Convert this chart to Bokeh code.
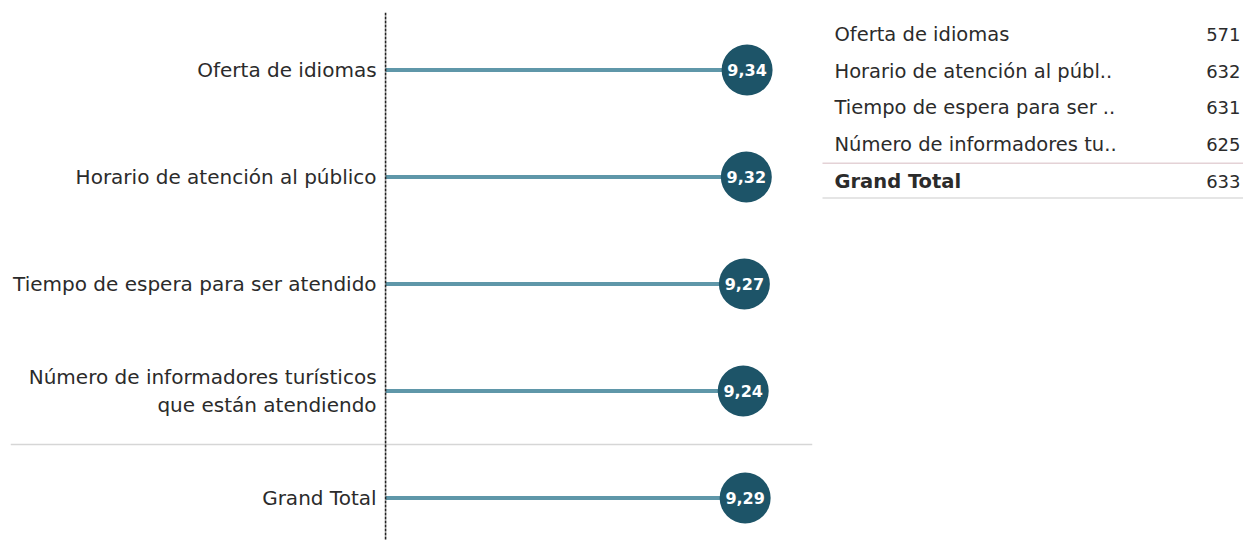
from bokeh.plotting import figure
from bokeh.models import Range1d, Span, ColumnDataSource
from bokeh.layouts import row
from bokeh.embed import file_html
from bokeh.resources import INLINE
from bokeh.core.properties import value

# ---- data ----
categories = [
    "Oferta de idiomas",
    "Horario de atención al público",
    "Tiempo de espera para ser atendido",
    "Número de informadores turísticos\nque están atendiendo",
    "Grand Total",
]
scores = [9.34, 9.32, 9.27, 9.24, 9.29]

table_labels = [
    "Oferta de idiomas",
    "Horario de atención al públ..",
    "Tiempo de espera para ser ..",
    "Número de informadores tu..",
    "Grand Total",
]
table_counts = [571, 632, 631, 625, 633]

FONT = "DejaVu Sans"
TXT = "#2b2b2b"
LINE_C = "#5f97a9"
DOT_C = "#1d5468"

idx = list(range(len(categories)))
score_txt = [f"{v:.2f}".replace(".", ",") for v in scores]

src = ColumnDataSource(dict(y=idx, v=scores, base=[0] * len(scores),
                            cat=categories, vt=score_txt))

p = figure(width=820, height=543, output_backend="svg", toolbar_location=None,
           x_range=Range1d(-9.69, 11.03), y_range=Range1d(4.397, -0.537),
           min_border_left=10, min_border_right=8, min_border_top=12, min_border_bottom=3)
p.title.visible = False
p.xaxis.visible = False
p.yaxis.visible = False
p.grid.visible = False
p.outline_line_color = None

p.add_layout(Span(location=3.5, dimension="width", line_color="#d6d6d6", line_width=1.5))
p.segment(x0="base", y0="y", x1="v", y1="y", source=src, line_color=LINE_C, line_width=4)
p.add_layout(Span(location=0, dimension="height", line_color="#222222", line_width=1.6, line_dash="3 1"))
p.scatter(x="v", y="y", source=src, size=51, fill_color=DOT_C, line_color=None)
p.text(x="v", y="y", text="vt", source=src, text_color="white", text_align="center",
       text_baseline="middle", text_font=value(FONT), text_font_size="16px", text_font_style="bold")
p.text(x="base", y="y", text="cat", source=src, text_color=TXT, text_align="right",
       text_baseline="middle", x_offset=-9, text_font=value(FONT), text_font_size="20px",
       text_line_height=1.15)

# ---- table ----
tsrc = ColumnDataSource(dict(
    y=idx, lab=table_labels, n=[str(c) for c in table_counts],
    style=["normal"] * (len(table_labels) - 1) + ["bold"],
))
t = figure(width=423, height=543, output_backend="svg", toolbar_location=None,
           x_range=Range1d(0, 423), y_range=Range1d(13.757, -0.595),
           min_border_left=0, min_border_right=0, min_border_top=12, min_border_bottom=0)
t.title.visible = False
t.xaxis.visible = False
t.yaxis.visible = False
t.grid.visible = False
t.outline_line_color = None

t.segment(x0=[2], y0=[3.5], x1=[423], y1=[3.5], line_color="#e4d2d6", line_width=1.5)
t.segment(x0=[2], y0=[4.45], x1=[423], y1=[4.45], line_color="#dcdcdc", line_width=1.5)
t.text(x=14, y="y", text="lab", source=tsrc, text_color=TXT, text_align="left",
       text_baseline="middle", text_font=value(FONT), text_font_size="19.5px",
       text_font_style="style")
t.text(x=420, y="y", text="n", source=tsrc, text_color=TXT, text_align="right",
       text_baseline="middle", text_font=value(FONT), text_font_size="18px")

layout = row(p, t, spacing=0)
open("out.html", "w").write(file_html(layout, INLINE))
